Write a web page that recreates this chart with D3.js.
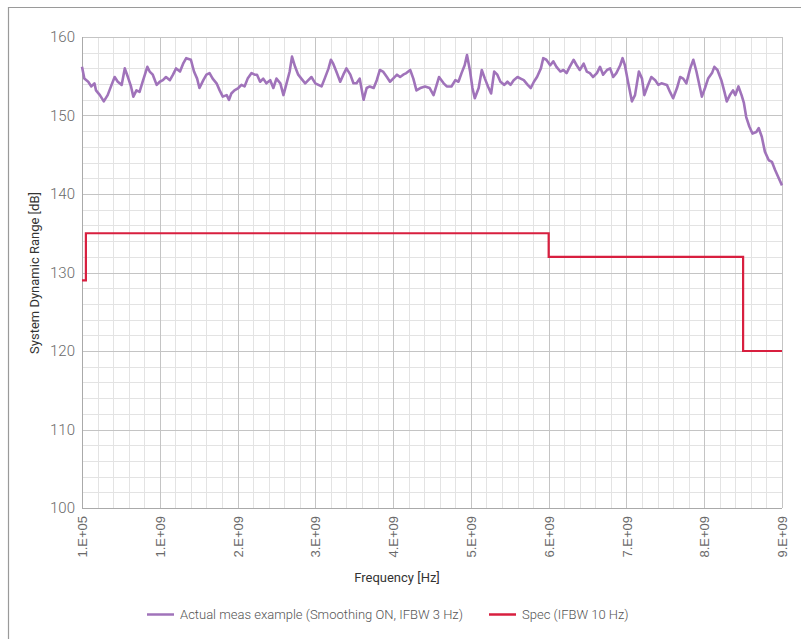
<!DOCTYPE html>
<html><head><meta charset="utf-8">
<script src="https://cdn.jsdelivr.net/npm/d3@7/dist/d3.min.js"></script>
<style>
html,body{margin:0;padding:0;background:#fff;}
svg{display:block;font-family:Roboto,"Liberation Sans",sans-serif;}
</style></head><body>
<svg id="c" width="801" height="639"></svg>
<script>
// Frequency in GHz (axis labels are shown in Hz scientific notation)
const measFreq = [0.00,0.03,0.08,0.12,0.16,0.18,0.23,0.28,0.33,0.38,0.42,0.46,0.51,0.55,0.59,0.63,0.66,0.70,0.74,0.78,0.84,0.87,0.91,0.96,1.00,1.04,1.08,1.13,1.17,1.21,1.26,1.30,1.34,1.40,1.44,1.48,1.51,1.56,1.60,1.64,1.68,1.73,1.77,1.81,1.86,1.89,1.92,1.96,2.01,2.05,2.09,2.13,2.18,2.22,2.25,2.29,2.33,2.37,2.42,2.46,2.50,2.55,2.59,2.63,2.67,2.70,2.74,2.78,2.82,2.87,2.91,2.95,3.00,3.04,3.08,3.12,3.17,3.20,3.23,3.27,3.32,3.36,3.40,3.45,3.49,3.53,3.57,3.62,3.66,3.70,3.75,3.79,3.83,3.87,3.92,3.96,4.00,4.05,4.09,4.13,4.17,4.22,4.26,4.30,4.35,4.41,4.47,4.52,4.56,4.59,4.65,4.69,4.75,4.80,4.84,4.88,4.92,4.95,4.99,5.02,5.05,5.10,5.14,5.18,5.22,5.26,5.30,5.34,5.38,5.43,5.47,5.51,5.55,5.60,5.64,5.68,5.73,5.77,5.81,5.85,5.90,5.93,5.97,6.02,6.06,6.10,6.15,6.19,6.23,6.27,6.32,6.36,6.40,6.45,6.49,6.53,6.57,6.62,6.66,6.70,6.75,6.79,6.83,6.87,6.92,6.95,6.98,7.02,7.07,7.11,7.16,7.20,7.23,7.27,7.32,7.37,7.41,7.45,7.52,7.56,7.60,7.65,7.69,7.73,7.77,7.82,7.86,7.90,7.97,8.01,8.05,8.10,8.13,8.17,8.22,8.26,8.29,8.33,8.37,8.40,8.44,8.48,8.51,8.54,8.58,8.62,8.67,8.70,8.74,8.78,8.83,8.87,8.91,8.95,9.00];
const measDR = [156.2,154.7,154.3,153.7,154.1,153.2,152.6,151.8,152.6,153.9,154.9,154.3,153.9,156.0,154.9,153.7,152.4,153.2,153.0,154.3,156.2,155.6,155.2,153.9,154.3,154.5,154.9,154.5,155.2,156.0,155.6,156.6,157.3,157.1,155.6,154.7,153.5,154.5,155.2,155.4,154.7,154.1,153.2,152.4,152.6,152.0,152.8,153.2,153.5,153.9,153.7,154.7,155.4,155.2,155.2,154.3,154.7,154.1,154.5,153.5,154.7,154.1,152.6,154.1,155.6,157.5,156.2,155.2,154.7,154.1,154.5,154.9,154.1,153.9,153.7,154.7,156.0,157.1,156.6,155.6,154.3,155.2,156.0,155.2,154.1,154.1,154.7,152.0,153.5,153.7,153.5,154.5,155.8,155.6,154.9,154.3,154.7,155.2,154.9,155.2,155.4,155.8,154.7,153.2,153.5,153.7,153.5,152.6,153.9,154.9,154.1,153.7,153.7,154.5,154.3,155.4,156.4,157.7,155.6,153.5,152.2,153.5,155.8,154.7,153.7,152.8,155.6,155.2,154.3,153.9,154.3,153.9,154.5,154.9,154.7,154.5,153.9,153.5,154.3,154.9,156.0,157.3,157.1,156.4,156.9,156.2,155.6,155.8,155.4,156.2,157.1,156.4,155.8,156.6,155.6,155.4,154.9,155.4,156.2,155.2,155.8,156.0,154.9,155.4,156.4,157.3,156.4,154.3,151.8,152.6,155.6,154.7,152.6,153.7,154.9,154.5,153.9,154.1,153.9,153.0,152.2,153.5,154.9,154.7,154.1,156.0,157.1,155.6,152.4,153.5,154.7,155.4,156.2,155.8,154.5,153.0,151.8,152.6,153.2,152.6,153.7,152.6,151.6,149.8,148.6,147.7,147.9,148.4,147.3,145.4,144.3,144.1,143.1,142.2,141.1];
const specFreq = [0.00,0.05,0.05,6.00,6.00,8.50,8.50,9.00];
const specDR   = [129,129,135,135,132,132,120,120];
const xTicks = [0,1,2,3,4,5,6,7,8,9];
const xTickLabels = ["1.E+05","1.E+09","2.E+09","3.E+09","4.E+09","5.E+09","6.E+09","7.E+09","8.E+09","9.E+09"];
const yTicks = [100,110,120,130,140,150,160];
const seriesNames = ["Actual meas example (Smoothing ON, IFBW 3 Hz)","Spec (IFBW 10 Hz)"];
const seriesColors = ["#a073ba","#d81f3f"];

const svg = d3.select("#c");
const L=82, R=782, T=37, B=508;
const x = d3.scaleLinear().domain([0,9]).range([L,R]);
const y = d3.scaleLinear().domain([100,160]).range([B,T]);

// outer frame
svg.append("path").attr("d","M8.5,639 V7.5 H801").attr("fill","none").attr("stroke","#9a9a9a").attr("stroke-width",1.2);

// minor grid
const g = svg.append("g");
g.selectAll(".mx").data(d3.range(0,9.0001,0.2)).enter().append("line")
  .attr("x1",d=>Math.round(x(d))+0.5).attr("x2",d=>Math.round(x(d))+0.5).attr("y1",T).attr("y2",B)
  .attr("stroke","#e3e3e3").attr("stroke-width",1);
g.selectAll(".my").data(d3.range(100,160.001,2)).enter().append("line")
  .attr("y1",d=>Math.round(y(d))+0.5).attr("y2",d=>Math.round(y(d))+0.5).attr("x1",L).attr("x2",R)
  .attr("stroke","#e3e3e3").attr("stroke-width",1);
// major grid
g.selectAll(".Mx").data(xTicks).enter().append("line")
  .attr("x1",d=>Math.round(x(d))+0.5).attr("x2",d=>Math.round(x(d))+0.5).attr("y1",T).attr("y2",B)
  .attr("stroke","#c4c4c4").attr("stroke-width",1);
g.selectAll(".My").data(yTicks).enter().append("line")
  .attr("y1",d=>Math.round(y(d))+0.5).attr("y2",d=>Math.round(y(d))+0.5).attr("x1",L).attr("x2",R)
  .attr("stroke","#c4c4c4").attr("stroke-width",1);
// axis lines
svg.append("line").attr("x1",L+0.5).attr("x2",L+0.5).attr("y1",T).attr("y2",B).attr("stroke","#aaaaaa");
svg.append("line").attr("x1",L).attr("x2",R).attr("y1",B+0.5).attr("y2",B+0.5).attr("stroke","#aaaaaa");

// axes via d3
const yAxis = svg.append("g").attr("transform",`translate(${L},0)`)
  .call(d3.axisLeft(y).tickValues(yTicks).tickSize(0).tickPadding(7));
yAxis.select(".domain").remove();
yAxis.selectAll("text").attr("font-size",15).attr("fill","#6a6a6a").attr("font-weight",300).attr("font-family","Roboto");

const xAxis = svg.append("g").attr("transform",`translate(0,${B})`)
  .call(d3.axisBottom(x).tickValues(xTicks).tickSize(0).tickFormat((d,i)=>xTickLabels[i]));
xAxis.select(".domain").remove();
xAxis.selectAll("text").attr("font-size",13).attr("fill","#6a6a6a").attr("font-weight",300)
  .attr("text-anchor","end").attr("dy","0.35em")
  .attr("transform","translate(0,8) rotate(-90)").attr("x",0).attr("y",0);

// titles
svg.append("text").attr("x",397).attr("y",582).attr("text-anchor","middle")
  .attr("font-size",13).attr("fill","#333").text("Frequency [Hz]");
svg.append("text").attr("transform","translate(39,273) rotate(-90)").attr("text-anchor","middle")
  .attr("font-size",13).attr("fill","#333").text("System Dynamic Range [dB]");

// series
const meas = measFreq.map((f,i)=>[f,measDR[i]]);
const spec = specFreq.map((f,i)=>[f,specDR[i]]);
const line = d3.line().x(d=>x(d[0])).y(d=>y(d[1]));
svg.append("path").datum(spec).attr("d",line).attr("fill","none")
  .attr("stroke",seriesColors[1]).attr("stroke-width",2.2);
svg.append("path").datum(meas).attr("d",line).attr("fill","none")
  .attr("stroke",seriesColors[0]).attr("stroke-width",2.6).attr("stroke-linejoin","round");

// legend
const leg = svg.append("g");
const legItems = [{x:147,tx:180},{x:489,tx:522}];
legItems.forEach((it,i)=>{
  leg.append("line").attr("x1",it.x).attr("x2",it.x+27).attr("y1",614.5).attr("y2",614.5)
    .attr("stroke",seriesColors[i]).attr("stroke-width",2.5);
  leg.append("text").attr("x",it.tx).attr("y",619).attr("font-size",13).attr("font-weight",300)
    .attr("fill","#555").text(seriesNames[i]);
});
</script>
</body></html>
